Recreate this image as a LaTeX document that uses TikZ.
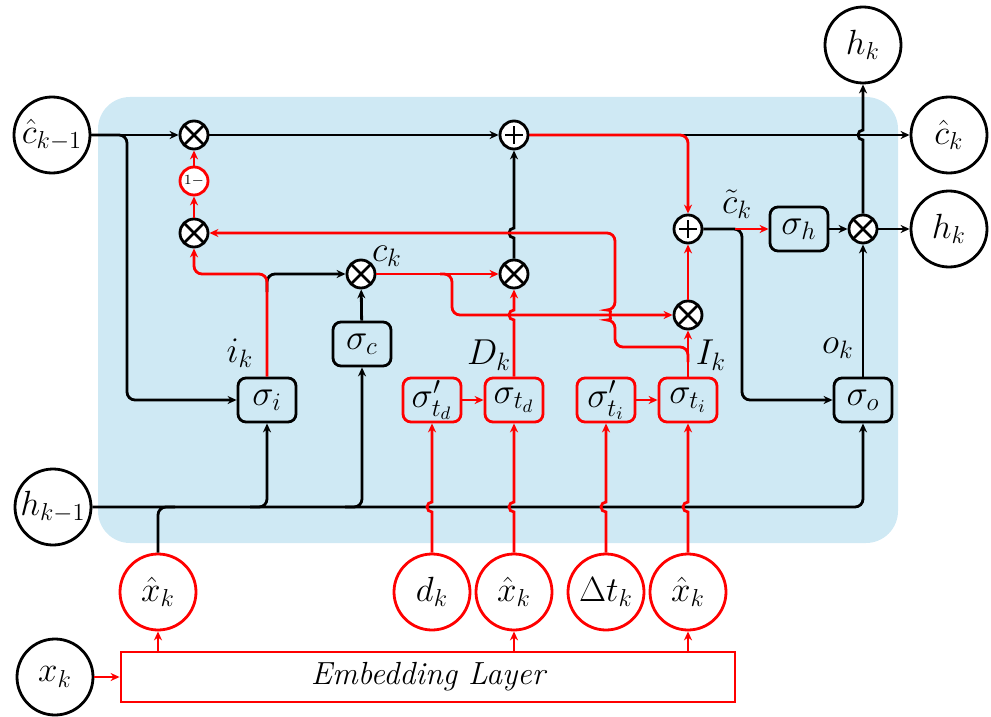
\RequirePackage{fix-cm}
\documentclass[tikz,border=0pt]{standalone}
\usepackage{amsmath}
\usetikzlibrary{arrows.meta, positioning, calc}
\definecolor{cellBlue}{RGB}{207,233,244}
\definecolor{timeRed}{RGB}{255,0,0}

\begin{document}
\begin{tikzpicture}[x=0.5pt, y=-0.5pt,
    bigc/.style={circle, draw=black, line width=1.4pt, fill=white, minimum size=38pt, inner sep=0pt, font=\fontsize{17.5}{19}\selectfont},
    redc/.style={bigc, draw=timeRed},
    gate/.style={rectangle, rounded corners=4pt, draw=black, line width=1.4pt, minimum width=29pt, minimum height=22pt, inner sep=0pt, font=\fontsize{18}{20}\selectfont},
    redgate/.style={gate, draw=timeRed},
    mul/.style={circle, draw=black, line width=1.4pt, fill=white, minimum size=14pt, inner sep=0pt,
        path picture={\draw[line width=1.3pt] (path picture bounding box.north west) -- (path picture bounding box.south east)
            (path picture bounding box.north east) -- (path picture bounding box.south west);}},
    add/.style={circle, draw=black, line width=1.4pt, fill=white, minimum size=14pt, inner sep=0pt,
        path picture={\draw[line width=1.3pt] ([yshift=-4.5pt]path picture bounding box.center) -- ([yshift=4.5pt]path picture bounding box.center)
            ([xshift=-4.5pt]path picture bounding box.center) -- ([xshift=4.5pt]path picture bounding box.center);}},
    lbl/.style={font=\fontsize{18}{20}\selectfont, inner sep=0pt},
    arr/.style={-{Stealth[length=4.5pt, width=4pt]}, line width=1.4pt, draw=black},
    rarr/.style={-{Stealth[length=4.5pt, width=4pt]}, line width=1.4pt, draw=timeRed},
    line/.style={line width=1.4pt, draw=black}
]
\useasboundingbox (0,0) rectangle (991,717);

% Cell background
\fill[cellBlue, rounded corners=16pt] (98,97) rectangle (898,543);

% Inputs and outputs
\node[bigc] (chatprev) at (52,135) {$\hat{c}_{k-1}$};
\node[bigc] (hprev) at (53,507) {$h_{k-1}$};
\node[bigc] (xk) at (55,677) {$x_k$};
\node[draw=timeRed, line width=1.4pt, minimum width=307pt, minimum height=25pt, inner sep=0pt, font=\fontsize{16}{18}\selectfont\itshape] (emb) at (428,677) {Embedding Layer};
\node[redc] (xh1) at (158,592) {$\hat{x}_k$};
\node[redc] (dk) at (432,592) {$d_k$};
\node[redc] (xh2) at (514,592) {$\hat{x}_k$};
\node[redc] (dtk) at (606,592) {$\Delta t_k$};
\node[redc] (xh3) at (688,592) {$\hat{x}_k$};
\node[bigc] (hktop) at (863,45) {$h_k$};
\node[bigc] (chatk) at (949,135) {$\hat{c}_k$};
\node[bigc] (hk) at (949,229) {$h_k$};

% Gates
\node[gate] (sigi) at (267,400) {$\sigma_i$};
\node[gate] (sigc) at (362,344) {$\sigma_c$};
\node[redgate] (sigtdp) at (432,400) {$\sigma'_{t_d}$};
\node[redgate] (sigtd) at (514,400) {$\sigma_{t_d}$};
\node[redgate] (sigtip) at (606,400) {$\sigma'_{t_i}$};
\node[redgate] (sigti) at (688,400) {$\sigma_{t_i}$};
\node[gate] (sigo) at (863,400) {$\sigma_o$};
\node[gate] (sigh) at (799,229) {$\sigma_h$};

% Pointwise operations
\node[mul] (mf) at (194,135) {};
\node[circle, draw=timeRed, line width=1.4pt, fill=white, minimum size=14pt, inner sep=0pt, font=\fontsize{7}{8}\selectfont] (one) at (194,181) {$1-$};
\node[mul] (mi) at (194,233) {};
\node[add] (pc) at (514,135) {};
\node[mul] (mc) at (361,274) {};
\node[mul] (md) at (514,274) {};
\node[add] (pt) at (688,229) {};
\node[mul] (mI) at (688,315) {};
\node[mul] (mo) at (863,229) {};

% Labels
\node[lbl] (ck) at (387,256) {$c_k$};
\node[lbl] (ik) at (240,353) {$i_k$};
\node[lbl] (Dk) at (489,355) {$D_k$};
\node[lbl] (Ik) at (711,355) {$I_k$};
\node[lbl] (ok) at (838,348) {$o_k$};
\node[lbl] (ctil) at (737,204) {$\tilde{c}_k$};

% Branch points
\coordinate (ci) at (127,400);
\coordinate (hi) at (250,507);
\coordinate (hc) at (345,507);
\coordinate (hx) at (175,507);
\coordinate (ib) at (267,274);
\coordinate (ib2) at (267,292);
\coordinate (cb) at (452,274);
\coordinate (Ib) at (688,362);
\coordinate (co) at (742,400);
\coordinate (ct) at (735,229);

% Cell state path
\draw[arr] (chatprev) -- (mf);
\draw[arr] (mf) -- (pc);
\draw[arr] (pc) -- (chatk);
\draw[arr, rounded corners=4pt] (chatprev.east) -| (ci) -- (sigi.west);
\draw[rarr, rounded corners=4pt] (pc.east) -| (pt.north);

% Hidden state path
\draw[arr, rounded corners=4pt] (hprev.east) -| (sigo.south);
\draw[arr, rounded corners=4pt] (hi) -| (sigi.south);
\draw[arr, rounded corners=4pt] (hc) -| (sigc.south);
\draw[line, rounded corners=4pt] (xh1.north) |- (hx);

% Input and candidate gates
\draw[arr] (sigc) -- (mc);
\draw[arr, rounded corners=4pt] (ib2) |- (mc.west);
\draw[rarr, rounded corners=4pt] (sigi.north) -- (ib) -| (mi.south);
\draw[rarr] (mi) -- (one);
\draw[rarr] (one) -- (mf);
\draw[rarr] (mc) -- (md);
\draw[rarr, rounded corners=4pt] ([xshift=-6pt]cb) -- (cb) |- (mI.west);

% Time gates
\draw[rarr] (sigtdp) -- (sigtd);
\draw[rarr] (sigtip) -- (sigti);
\draw[rarr] (dk.north) -- (432,512) arc[start angle=270, end angle=90, radius=2.5pt] -- (sigtdp.south);
\draw[rarr] (xh2.north) -- (514,512) arc[start angle=270, end angle=90, radius=2.5pt] -- (sigtd.south);
\draw[rarr] (dtk.north) -- (606,512) arc[start angle=270, end angle=90, radius=2.5pt] -- (sigtip.south);
\draw[rarr] (xh3.north) -- (688,512) arc[start angle=270, end angle=90, radius=2.5pt] -- (sigti.south);
\draw[rarr] (sigtd.north) -- (514,320) arc[start angle=270, end angle=90, radius=2.5pt] -- (md.south);
\draw[arr] (md.north) -- (514,238) arc[start angle=270, end angle=90, radius=2.5pt] -- (pc.south);
\draw[rarr] (sigti) -- (mI);
\draw[rarr, rounded corners=4pt] (Ib) |- (615,347) -- (615,320) arc[start angle=270, end angle=90, radius=2.5pt] |- (mi.east);
\draw[rarr] (mI) -- (pt);

% Output gate
\draw[arr, rounded corners=4pt] (pt.east) -| (co) -- (sigo.west);
\draw[rarr] (ct) -- (sigh);
\draw[arr] (sigh) -- (mo);
\draw[arr] (sigo) -- (mo);
\draw[arr] (mo) -- (hk);
\draw[arr] (mo.north) -- (863,140) arc[start angle=270, end angle=90, radius=2.5pt] -- (hktop.south);

% Embedding
\draw[rarr] (xk) -- (emb);
\draw[rarr] (xh1 |- emb.north) -- (xh1);
\draw[rarr] (xh2 |- emb.north) -- (xh2);
\draw[rarr] (xh3 |- emb.north) -- (xh3);

\end{tikzpicture}
\end{document}
